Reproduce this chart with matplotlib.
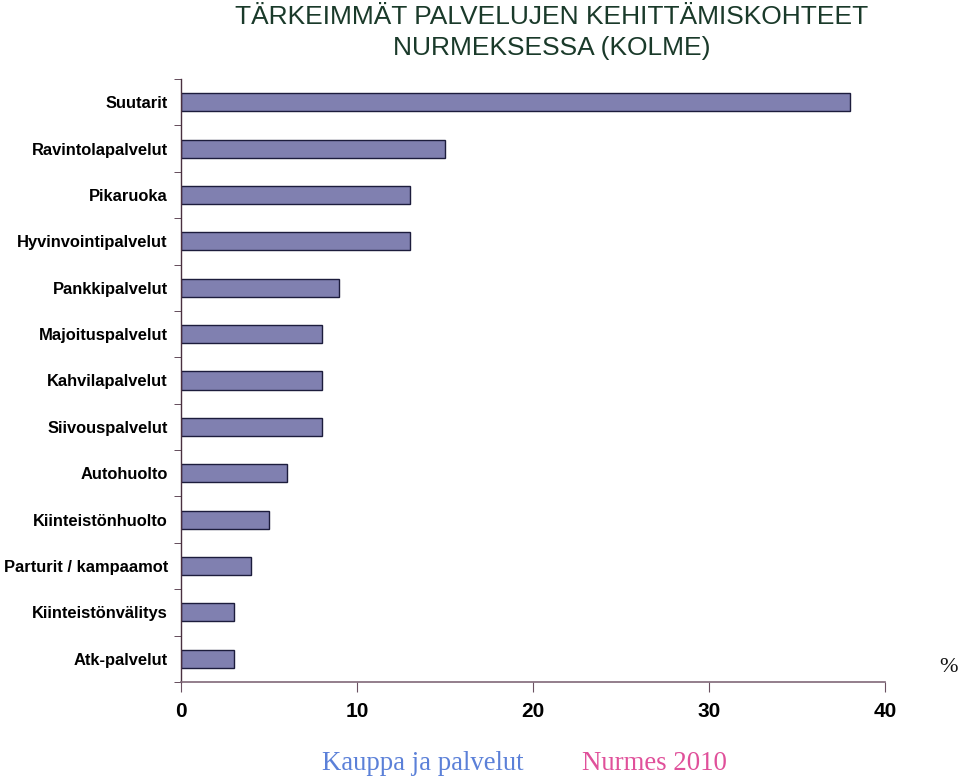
import matplotlib
matplotlib.use("Agg")
import matplotlib.pyplot as plt
import numpy as np

categories = ["Suutarit", "Ravintolapalvelut", "Pikaruoka", "Hyvinvointipalvelut",
              "Pankkipalvelut", "Majoituspalvelut", "Kahvilapalvelut", "Siivouspalvelut",
              "Autohuolto", "Kiinteistönhuolto", "Parturit / kampaamot",
              "Kiinteistönvälitys", "Atk-palvelut"]
values = [38, 15, 13, 13, 9, 8, 8, 8, 6, 5, 4, 3, 3]
xticks = [0, 10, 20, 30, 40]

plt.rcParams['font.family'] = ['Liberation Sans', 'DejaVu Sans']

fig = plt.figure(figsize=(9.6, 7.78), dpi=100)
ax = fig.add_axes([181/960, 1-682/778, (885-181)/960, (682-79)/778])

n = len(categories)
y = np.arange(n)
ax.barh(y, values, height=0.39, color="#8080b0", edgecolor="#1c1c3c", linewidth=1.0)
ax.set_ylim(n - 0.5, -0.5)
ax.set_xlim(0, 40)

ax.set_yticks(y)
ax.set_yticklabels(categories, fontsize=11.9, fontweight="bold")
ax.set_yticks(np.arange(-0.5, n, 1.0), minor=True)
ax.tick_params(axis="y", which="major", length=0, pad=9.5)
ax.tick_params(axis="y", which="minor", length=5, direction="out", color="#4a3040")

ax.set_xticks(xticks)
ax.set_xticklabels([str(t) for t in xticks], fontsize=15, fontweight="bold")
ax.tick_params(axis="x", length=7, direction="out", color="#6a5060", pad=7.5)

for s in ["top", "right"]:
    ax.spines[s].set_visible(False)
ax.spines["left"].set_color("#4a3040")
ax.spines["bottom"].set_color("#806878")
ax.spines["left"].set_linewidth(1.0)
ax.spines["bottom"].set_linewidth(1.2)

fig.text(552/960, 1-17/778, "TÄRKEIMMÄT PALVELUJEN KEHITTÄMISKOHTEET", ha="center", va="center",
         fontsize=19, color="#1a3a2a")
fig.text(552/960, 1-48/778, "NURMEKSESSA (KOLME)", ha="center", va="center",
         fontsize=19, color="#1a3a2a")

fig.text(949/960, 1-667/778, "%", ha="center", va="center", fontsize=16,
         family=["Liberation Serif", "DejaVu Serif"], color="#111111")

fig.text(423/960, 1-764/778, "Kauppa ja palvelut", ha="center", va="center", fontsize=19.3,
         family=["Liberation Serif", "DejaVu Serif"], color="#5b80d8")
fig.text(654/960, 1-764/778, "Nurmes 2010", ha="center", va="center", fontsize=19.3,
         family=["Liberation Serif", "DejaVu Serif"], color="#e0509a")

fig.savefig("out.png", dpi=100, facecolor="white")
